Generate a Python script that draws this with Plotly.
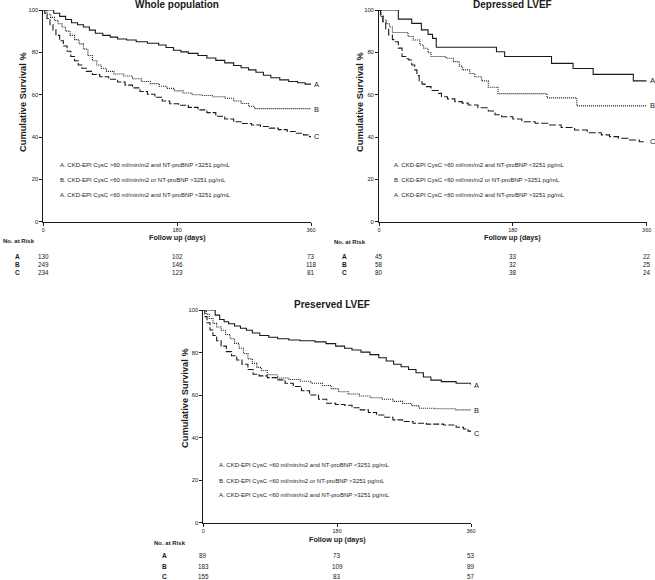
import plotly.graph_objects as go

# ---------------- DATA ----------------
panel_titles = ["Whole population", "Depressed LVEF", "Preserved LVEF"]
group_names = ["A", "B", "C"]
legend_lines = [
    "A. CKD-EPI CysC >60 ml/min/m2 and NT-proBNP <3251 pg/mL",
    "B. CKD-EPI CysC <60 ml/min/m2 or NT-proBNP >3251 pg/mL",
    "A. CKD-EPI CysC <60 ml/min/m2 and NT-proBNP >3251 pg/mL",
]
x_ticks = [0, 180, 360]
y_ticks = [0, 20, 40, 60, 80, 100]

# Whole population
whole_A_t = [0, 14, 22, 30, 38, 46, 54, 62, 70, 80, 90, 100, 112, 125, 140, 155, 165, 175, 185, 195, 208, 220, 232, 244, 256, 266, 276, 286, 296, 306, 318, 330, 342, 352, 360]
whole_A_s = [100, 98.5, 97, 95.5, 94, 93, 92, 90.5, 89, 88, 87.2, 86.3, 85.8, 85, 84.3, 83.5, 82.3, 81, 80.2, 79.5, 78.5, 77.3, 76.2, 75, 73.8, 72.7, 71.7, 70.6, 69.2, 68, 67, 66.2, 65.6, 65, 65]
whole_B_t = [0, 5, 10, 15, 20, 25, 30, 36, 42, 48, 54, 60, 66, 72, 78, 85, 95, 108, 120, 132, 144, 156, 166, 176, 188, 200, 212, 228, 244, 256, 266, 276, 284, 360]
whole_B_s = [100, 98, 96.5, 95, 93.5, 92, 90, 88, 86, 84, 81.5, 78.5, 76, 74, 72.5, 71, 69.8, 68.8, 67.5, 66.2, 65.2, 64, 63, 61.8, 60.8, 60, 59.6, 59, 58.3, 57, 55.8, 54.5, 53.4, 53.2]
whole_C_t = [0, 2, 5, 9, 13, 17, 22, 27, 32, 37, 42, 47, 52, 58, 66, 76, 88, 100, 110, 120, 130, 140, 150, 160, 170, 182, 195, 208, 220, 232, 244, 256, 268, 280, 292, 304, 316, 328, 340, 350, 358, 360]
whole_C_s = [100, 98.4, 96, 93, 90.6, 88, 85.5, 83, 80.5, 78, 76, 74, 72.5, 71, 69.5, 68.5, 67.3, 66, 64.5, 63.2, 61.5, 60.2, 58.8, 57, 55.7, 55, 54, 52.8, 51.5, 49.8, 48.5, 47.2, 46.4, 45.7, 45, 44.2, 43.5, 42.6, 41.8, 41, 40.2, 40.2]

# Depressed LVEF
dep_A_t = [0, 26, 44, 57, 66, 72, 77, 158, 169, 232, 261, 288, 342, 360]
dep_A_s = [100, 95.7, 93.7, 90.6, 88.5, 86.6, 82.4, 80.3, 78, 74.8, 72.4, 69.6, 66.5, 66.5]
dep_B_t = [0, 3, 6, 10, 14, 18, 39, 46, 55, 60, 66, 70, 90, 100, 108, 112, 122, 129, 138, 147, 160, 226, 266, 360]
dep_B_s = [100, 97, 95.3, 93.5, 92, 89.4, 87.5, 85.8, 83.5, 81.9, 79.8, 78, 77.2, 75.6, 73.5, 71.7, 70, 68.5, 66.5, 63.5, 60.5, 58.5, 54.7, 54.7]
dep_C_t = [0, 2, 5, 9, 13, 18, 22, 26, 31, 36, 40, 44, 48, 51, 54, 58, 62, 70, 80, 84, 92, 102, 112, 120, 133, 147, 156, 165, 180, 192, 210, 228, 245, 263, 280, 299, 310, 322, 335, 350, 360]
dep_C_s = [100, 97, 94.5, 91, 88.2, 86, 85, 82, 78, 77, 76.4, 74, 71.7, 69, 66.1, 65, 63.8, 62, 60.6, 59, 58, 56.7, 56, 55.1, 53.8, 52.3, 50.5, 49.6, 48.5, 47.2, 46.5, 45.7, 44.5, 43.3, 42, 41, 40.2, 39.4, 38.6, 37.8, 37.8]

# Preserved LVEF
pre_A_t = [0, 16, 22, 28, 34, 42, 50, 58, 66, 76, 88, 100, 115, 130, 150, 165, 178, 190, 200, 212, 224, 236, 246, 256, 266, 276, 286, 296, 306, 320, 340, 360]
pre_A_s = [100, 97.6, 95.5, 94.5, 93.5, 92.5, 91.4, 90.5, 89.2, 88, 87.2, 86.5, 85.9, 85.5, 85, 84.2, 83, 82, 81.2, 80.2, 79, 77.5, 76, 74.5, 73.3, 72, 70.5, 68.5, 67, 66.3, 65.5, 64.7]
pre_B_t = [0, 4, 8, 13, 18, 24, 30, 36, 42, 48, 54, 60, 66, 72, 78, 86, 100, 115, 130, 145, 160, 172, 182, 195, 210, 225, 240, 255, 268, 280, 290, 310, 340, 360]
pre_B_s = [100, 98, 96, 93.7, 92, 90.5, 88.5, 86.5, 84.3, 82, 79.5, 77, 74.9, 73, 71.5, 69.5, 68, 67.3, 66.5, 65.5, 64.5, 63, 61.5, 60.5, 59.5, 58.7, 58, 57, 56, 55, 53.8, 53.5, 53, 52.7]
pre_C_t = [0, 2, 5, 9, 13, 18, 24, 31, 38, 45, 52, 60, 67, 75, 86, 99, 110, 121, 132, 143, 155, 166, 178, 190, 200, 211, 222, 233, 244, 255, 268, 282, 300, 323, 340, 350, 356, 360]
pre_C_s = [100, 96.9, 94, 90.6, 88, 85.5, 83, 80.4, 78.5, 76.5, 74.5, 72, 69.8, 69, 68.2, 67.1, 65.5, 64, 62, 60, 58, 56.1, 55.5, 55.2, 54, 53, 51.8, 50.6, 49.5, 48.3, 47.5, 46.7, 46.3, 45.9, 44.8, 44, 43, 42]

# Numbers at risk (at 0, 180, 360 days)
risk_whole = {"A": [130, 102, 73], "B": [249, 146, 118], "C": [234, 123, 81]}
risk_dep = {"A": [45, 33, 22], "B": [58, 32, 25], "C": [80, 38, 24]}
risk_pre = {"A": [89, 73, 53], "B": [183, 109, 89], "C": [155, 83, 57]}

# ---------------- LAYOUT HELPERS ----------------
W, H = 655, 580
FONT = "Liberation Sans, Arial, Helvetica, sans-serif"
INK = "#1a1a1a"


def px(x):
    return x / W


def py(y):
    return 1 - y / H


panels = [
    dict(title=panel_titles[0], data=[(whole_A_t, whole_A_s), (whole_B_t, whole_B_s), (whole_C_t, whole_C_s)],
         risk=risk_whole, x0=43.3, x1=311, ytop=10, ybot=221.7, title_y=5, title_x=177,
         ytitle_x=23, ytitle_y=102, leg_x=58, leg_y=[164.5, 180.5, 194.5],
         fu_y=237, nar_x=1, nar_y=241, letter_x=17, rows_y=[256, 264, 272], dashC="6px,2px"),
    dict(title=panel_titles[1], data=[(dep_A_t, dep_A_s), (dep_B_t, dep_B_s), (dep_C_t, dep_C_s)],
         risk=risk_dep, x0=379, x1=646.7, ytop=10, ybot=221.7, title_y=5, title_x=512,
         ytitle_x=360, ytitle_y=102, leg_x=392, leg_y=[164.5, 180.5, 194.5],
         fu_y=237, nar_x=332, nar_y=242, letter_x=344, rows_y=[256, 264, 272], dashC="7px,2.5px"),
    dict(title=panel_titles[2], data=[(pre_A_t, pre_A_s), (pre_B_t, pre_B_s), (pre_C_t, pre_C_s)],
         risk=risk_pre, x0=203.3, x1=471, ytop=310, ybot=522.5, title_y=304, title_x=332,
         ytitle_x=185, ytitle_y=398, leg_x=217, leg_y=[465, 481, 495],
         fu_y=539, nar_x=152, nar_y=543, letter_x=165, rows_y=[555, 566, 576], dashC="6px,2px"),
]

dashes = ["solid", "1px,1px"]

fig = go.Figure()
annotations = []
layout_axes = {}

for i, p in enumerate(panels):
    sfx = "" if i == 0 else str(i + 1)
    xa, ya = "x" + sfx, "y" + sfx
    for g, (t, s) in enumerate(p["data"]):
        dash = dashes[g] if g < 2 else p["dashC"]
        fig.add_trace(go.Scatter(x=t, y=s, mode="lines", line=dict(color=INK, width=1.1, dash=dash, shape="hv"),
                                 xaxis=xa, yaxis=ya, showlegend=False, hoverinfo="skip", cliponaxis=False))
        annotations.append(dict(x=t[-1], y=s[-1], xref=xa, yref=ya, text=group_names[g], showarrow=False,
                                xanchor="left", yanchor="middle", xshift=1,
                                font=dict(size=7.5, family=FONT, color=INK)))
    layout_axes["xaxis" + sfx] = dict(domain=[px(p["x0"]), px(p["x1"])], anchor=ya, range=[0, 360],
                                      tickvals=x_ticks, ticks="outside", ticklen=3, tickwidth=1, tickcolor=INK,
                                      showline=True, linecolor=INK, linewidth=1, showgrid=False, zeroline=False,
                                      automargin=False, tickfont=dict(size=5.5, family=FONT, color=INK))
    layout_axes["yaxis" + sfx] = dict(domain=[py(p["ybot"]), py(p["ytop"])], anchor=xa, range=[0, 100],
                                      tickvals=y_ticks, ticks="outside", ticklen=3, tickwidth=1, tickcolor=INK,
                                      showline=True, linecolor=INK, linewidth=1, showgrid=False, zeroline=False,
                                      automargin=False, tickfont=dict(size=5.8, family=FONT, color=INK))
    # title
    annotations.append(dict(x=px(p["title_x"]), y=py(p["title_y"]), xref="paper", yref="paper",
                            text="<b>" + p["title"] + "</b>", showarrow=False, xanchor="center", yanchor="middle",
                            font=dict(size=10, family=FONT, color=INK)))
    # y title
    annotations.append(dict(x=px(p["ytitle_x"]), y=py(p["ytitle_y"]), xref="paper", yref="paper",
                            text="<b>Cumulative Survival %</b>", textangle=-90, showarrow=False,
                            xanchor="center", yanchor="middle", font=dict(size=9.3, family=FONT, color=INK)))
    # legend text
    for k, line in enumerate(legend_lines):
        annotations.append(dict(x=px(p["leg_x"]), y=py(p["leg_y"][k]), xref="paper", yref="paper",
                                text=line, showarrow=False, xanchor="left", yanchor="middle",
                                font=dict(size=6, family=FONT, color=INK)))
    # x title
    annotations.append(dict(x=180, y=py(p["fu_y"]), xref=xa, yref="paper", text="<b>Follow up (days)</b>",
                            showarrow=False, xanchor="center", yanchor="middle",
                            font=dict(size=7.2, family=FONT, color=INK)))
    # No. at risk
    annotations.append(dict(x=px(p["nar_x"]), y=py(p["nar_y"]), xref="paper", yref="paper",
                            text="<b>No. at Risk</b>", showarrow=False, xanchor="left", yanchor="middle",
                            font=dict(size=6, family=FONT, color=INK)))
    for r, g in enumerate(group_names):
        annotations.append(dict(x=px(p["letter_x"]), y=py(p["rows_y"][r]), xref="paper", yref="paper",
                                text="<b>" + g + "</b>", showarrow=False, xanchor="center", yanchor="middle",
                                font=dict(size=6.5, family=FONT, color=INK)))
        for c, xv in enumerate(x_ticks):
            annotations.append(dict(x=xv, y=py(p["rows_y"][r]), xref=xa, yref="paper",
                                    text=str(p["risk"][g][c]), showarrow=False, xanchor="center",
                                    yanchor="middle", font=dict(size=6.3, family=FONT, color=INK)))

fig.update_layout(width=W, height=H, margin=dict(l=0, r=0, t=0, b=0, autoexpand=False),
                  paper_bgcolor="white", plot_bgcolor="white", showlegend=False,
                  annotations=annotations, **layout_axes)

fig.write_html("out.html", config={"displayModeBar": False, "staticPlot": True},
               post_script="document.body.style.margin='0px';document.body.style.padding='0px';"
                           "document.documentElement.style.margin='0px';")
